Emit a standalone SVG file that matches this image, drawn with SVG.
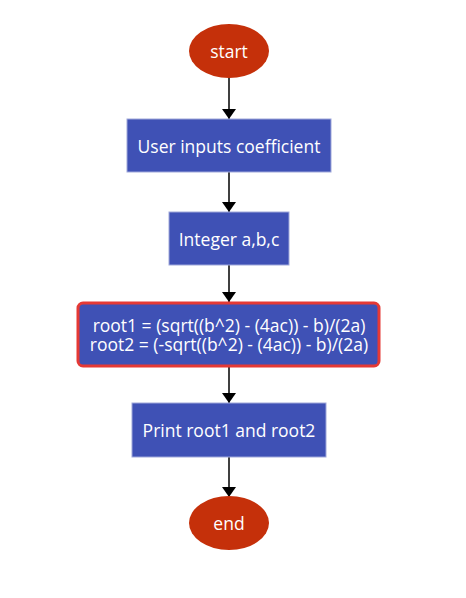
<svg xmlns="http://www.w3.org/2000/svg" width="466" height="598" viewBox="0 0 466 598">
<style>
.box{fill:#3f51b5;stroke:#9fa8da;stroke-width:1}
.term{fill:#c5300a}
.t{font-family:"Open Sans","Noto Sans",sans-serif;font-size:17.5px;fill:#ffffff;text-anchor:middle;dominant-baseline:central}
.c{stroke:#000;stroke-width:1.5;fill:none;marker-end:url(#ah)}
</style>
<defs>
<marker id="ah" viewBox="0 0 10 14" refX="10" refY="7" markerWidth="10" markerHeight="14" markerUnits="userSpaceOnUse" orient="auto">
<path d="M0,0 L10,7 L0,14 z" fill="#000"/>
</marker>
</defs>
<rect width="466" height="598" fill="#fff"/>
<g id="connectors">
<line class="c" x1="229" y1="78" x2="229" y2="119"/>
<line class="c" x1="229" y1="172" x2="229" y2="212"/>
<line class="c" x1="229" y1="265" x2="229" y2="302"/>
<line class="c" x1="229" y1="367" x2="229" y2="403"/>
<line class="c" x1="229" y1="457" x2="229" y2="497"/>
</g>
<g id="start">
<ellipse class="term" cx="229" cy="51" rx="40" ry="27"/>
<text class="t" x="229" y="51">start</text>
</g>
<g id="input">
<rect class="box" x="127" y="119" width="204" height="53"/>
<text class="t" x="229" y="145.5">User inputs coefficient</text>
</g>
<g id="integer">
<rect class="box" x="169" y="212" width="120" height="53"/>
<text class="t" x="229" y="238.5">Integer a,b,c</text>
</g>
<g id="formula">
<rect x="78" y="303" width="301" height="63" rx="5" fill="#3f51b5" stroke="#e53935" stroke-width="3"/>
<text class="t"><tspan x="229" y="325">root1 = (sqrt((b^2) - (4ac)) - b)/(2a)</tspan><tspan x="229" y="344">root2 = (-sqrt((b^2) - (4ac)) - b)/(2a)</tspan></text>
</g>
<g id="print">
<rect class="box" x="132" y="403" width="194" height="54"/>
<text class="t" x="229" y="430">Print root1 and root2</text>
</g>
<g id="end">
<ellipse class="term" cx="229" cy="523" rx="40" ry="27"/>
<text class="t" x="229" y="523">end</text>
</g>
</svg>
